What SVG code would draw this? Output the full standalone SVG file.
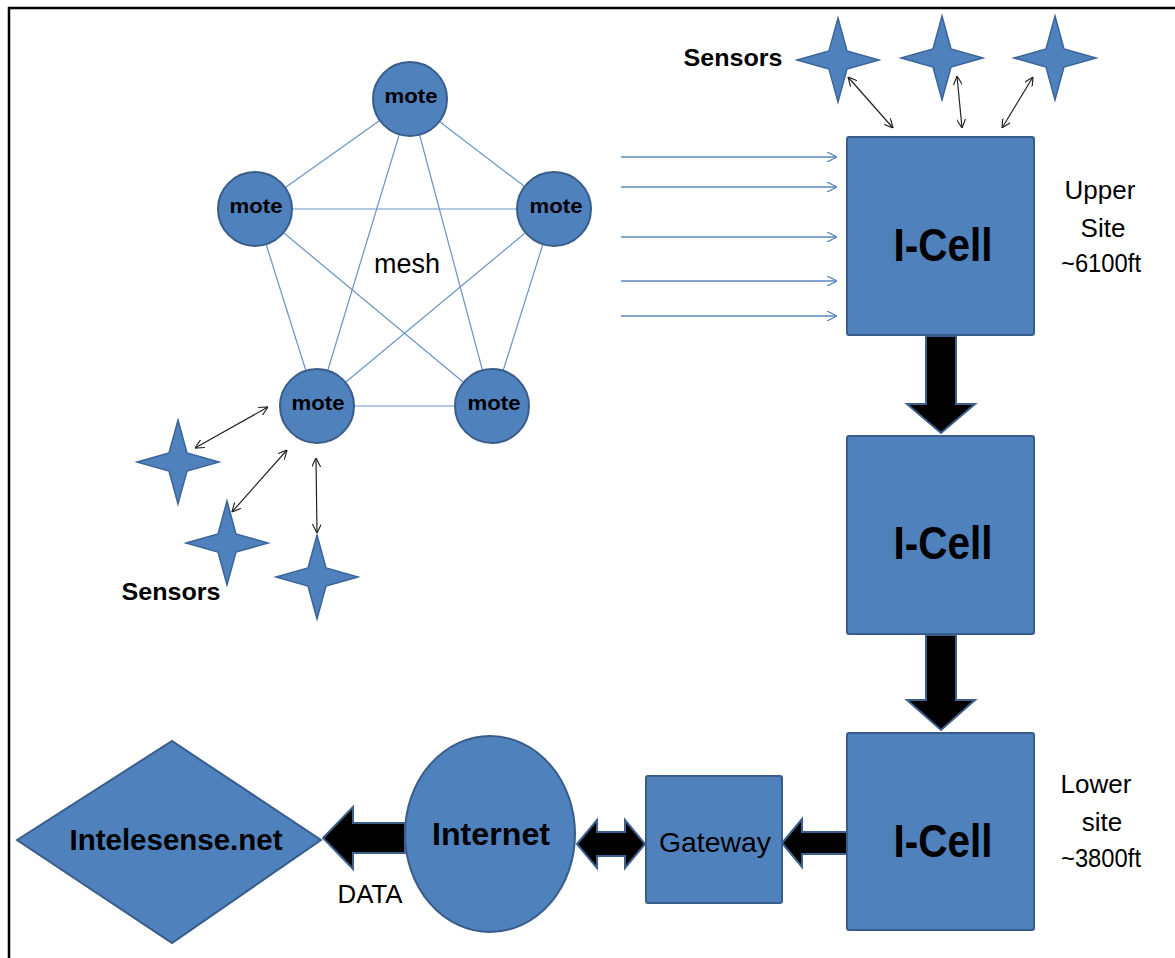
<svg xmlns="http://www.w3.org/2000/svg" xmlns:xlink="http://www.w3.org/1999/xlink" width="1175" height="958" viewBox="0 0 1175 958">
<style>
.shape{fill:#4f81bd;stroke:#385d8a;stroke-width:2}
.star{fill:#4f81bd;stroke:#3a649a;stroke-width:1.5}
.mesh{stroke:#6a93c8;stroke-width:1.2;fill:none}
.feed{stroke:#5b87c0;stroke-width:1.3;fill:none;marker-end:url(#blueHead)}
.thin{stroke:#222;stroke-width:1.2;fill:none;marker-start:url(#blackHead);marker-end:url(#blackHead)}
.big{fill:#000;stroke:#3d5f8c;stroke-width:2;stroke-linejoin:miter}
.t{font-family:"Liberation Sans",Arial,sans-serif;fill:#000;text-anchor:middle}
.b{font-weight:bold}
</style>
<defs>
<marker id="blueHead" viewBox="0 0 10 10" refX="10" refY="5" markerWidth="10" markerHeight="10" markerUnits="userSpaceOnUse" orient="auto">
<path d="M0,0 L10,5 L0,10" fill="none" stroke="#5b87c0" stroke-width="1.3"/>
</marker>
<marker id="blackHead" viewBox="0 0 10 10" refX="10" refY="5" markerWidth="9" markerHeight="9" markerUnits="userSpaceOnUse" orient="auto-start-reverse">
<path d="M0,0 L10,5 L0,10" fill="none" stroke="#222" stroke-width="1.3"/>
</marker>
<path id="star4" d="M0,-42 L9,-9 L41,0 L9,9 L0,42 L-9,9 L-41,0 L-9,-9 Z"/>
</defs>
<rect width="1175" height="958" fill="#fff"/>
<rect x="9" y="8" width="1200" height="1000" fill="none" stroke="#000" stroke-width="2.5"/>

<g id="connectors">
<line class="mesh" x1="410" y1="99" x2="255" y2="209"/>
<line class="mesh" x1="410" y1="99" x2="554" y2="209"/>
<line class="mesh" x1="410" y1="99" x2="317" y2="406"/>
<line class="mesh" x1="410" y1="99" x2="492" y2="406"/>
<line class="mesh" x1="255" y1="209" x2="554" y2="209"/>
<line class="mesh" x1="255" y1="209" x2="317" y2="406"/>
<line class="mesh" x1="255" y1="209" x2="492" y2="406"/>
<line class="mesh" x1="554" y1="209" x2="317" y2="406"/>
<line class="mesh" x1="554" y1="209" x2="492" y2="406"/>
<line class="mesh" x1="317" y1="406" x2="492" y2="406"/>

<line class="feed" x1="621" y1="157" x2="837" y2="157"/>
<line class="feed" x1="621" y1="187" x2="837" y2="187"/>
<line class="feed" x1="621" y1="237" x2="837" y2="237"/>
<line class="feed" x1="621" y1="281" x2="837" y2="281"/>
<line class="feed" x1="621" y1="316" x2="837" y2="316"/>

<line class="thin" x1="848" y1="77" x2="893" y2="128"/>
<line class="thin" x1="957" y1="76" x2="962" y2="128"/>
<line class="thin" x1="1033" y1="77" x2="1002" y2="128"/>

<line class="thin" x1="195" y1="448" x2="268" y2="407"/>
<line class="thin" x1="232" y1="512" x2="287" y2="450"/>
<line class="thin" x1="316" y1="458" x2="317" y2="533"/>

<polygon class="big" points="926,336 956,336 956,404 975,404 941,433 907,404 926,404"/>
<polygon class="big" points="926,635 956,635 956,700 975,700 941,730 907,700 926,700"/>
<polygon class="big" points="847,832 802,832 802,819 782,843 802,867 802,854 847,854"/>
<polygon class="big" points="577,844 597,820 597,832 625,832 625,820 645,844 625,868 625,856 597,856 597,868"/>
<polygon class="big" points="405,823 353,823 353,807 323,838 353,869 353,853 405,853"/>
</g>

<g id="mote-top"><circle class="shape" cx="410" cy="99" r="37"/><text class="t b" x="411" y="103" font-size="20" textLength="53" lengthAdjust="spacingAndGlyphs">mote</text></g>
<g id="mote-left"><circle class="shape" cx="255" cy="209" r="37"/><text class="t b" x="256" y="213" font-size="20" textLength="53" lengthAdjust="spacingAndGlyphs">mote</text></g>
<g id="mote-right"><circle class="shape" cx="554" cy="209" r="37"/><text class="t b" x="556" y="213" font-size="20" textLength="53" lengthAdjust="spacingAndGlyphs">mote</text></g>
<g id="mote-bl"><circle class="shape" cx="317" cy="406" r="37"/><text class="t b" x="318" y="410" font-size="20" textLength="53" lengthAdjust="spacingAndGlyphs">mote</text></g>
<g id="mote-br"><circle class="shape" cx="492" cy="406" r="37"/><text class="t b" x="494" y="410" font-size="20" textLength="53" lengthAdjust="spacingAndGlyphs">mote</text></g>
<g id="mesh-label"><text class="t" x="407" y="273" font-size="27" textLength="66" lengthAdjust="spacingAndGlyphs">mesh</text></g>

<g id="sensors-top">
<use xlink:href="#star4" href="#star4" class="star" x="838" y="60"/>
<use xlink:href="#star4" href="#star4" class="star" x="942" y="58"/>
<use xlink:href="#star4" href="#star4" class="star" x="1055" y="58"/>
<text class="t b" x="733" y="66" font-size="24" textLength="99" lengthAdjust="spacingAndGlyphs">Sensors</text>
</g>
<g id="sensors-bottom">
<use xlink:href="#star4" href="#star4" class="star" x="178" y="462"/>
<use xlink:href="#star4" href="#star4" class="star" x="227" y="543"/>
<use xlink:href="#star4" href="#star4" class="star" x="317" y="577"/>
<text class="t b" x="171" y="600" font-size="24" textLength="99" lengthAdjust="spacingAndGlyphs">Sensors</text>
</g>

<g id="icell-upper"><rect class="shape" x="847" y="137" width="187" height="198" rx="2"/><text class="t b" x="943" y="261" font-size="46" textLength="99" lengthAdjust="spacingAndGlyphs">I-Cell</text></g>
<g id="icell-middle"><rect class="shape" x="847" y="436" width="187" height="198" rx="2"/><text class="t b" x="943" y="559" font-size="46" textLength="99" lengthAdjust="spacingAndGlyphs">I-Cell</text></g>
<g id="icell-lower"><rect class="shape" x="847" y="733" width="187" height="197" rx="2"/><text class="t b" x="943" y="857" font-size="46" textLength="99" lengthAdjust="spacingAndGlyphs">I-Cell</text></g>

<g id="upper-label"><text class="t" font-size="26"><tspan x="1100" y="199">Upper</tspan><tspan x="1103" y="237">Site</tspan><tspan x="1101" y="272" textLength="80" lengthAdjust="spacingAndGlyphs">~6100ft</tspan></text></g>
<g id="lower-label"><text class="t" font-size="26"><tspan x="1096" y="793">Lower</tspan><tspan x="1102" y="831">site</tspan><tspan x="1101" y="867" textLength="80" lengthAdjust="spacingAndGlyphs">~3800ft</tspan></text></g>

<g id="gateway"><rect class="shape" x="646" y="776" width="136" height="127" rx="2"/><text class="t" x="715" y="852" font-size="28" textLength="112" lengthAdjust="spacingAndGlyphs">Gateway</text></g>
<g id="internet"><ellipse class="shape" cx="490" cy="834" rx="85" ry="98"/><text class="t b" x="491" y="845" font-size="31" textLength="118" lengthAdjust="spacingAndGlyphs">Internet</text></g>
<g id="intelesense"><polygon class="shape" points="17,840 172,741 321,840 172,943"/><text class="t b" x="176" y="850" font-size="29" textLength="213" lengthAdjust="spacingAndGlyphs">Intelesense.net</text></g>
<g id="data-label"><text class="t" x="370" y="903" font-size="25" textLength="65" lengthAdjust="spacingAndGlyphs">DATA</text></g>
</svg>
